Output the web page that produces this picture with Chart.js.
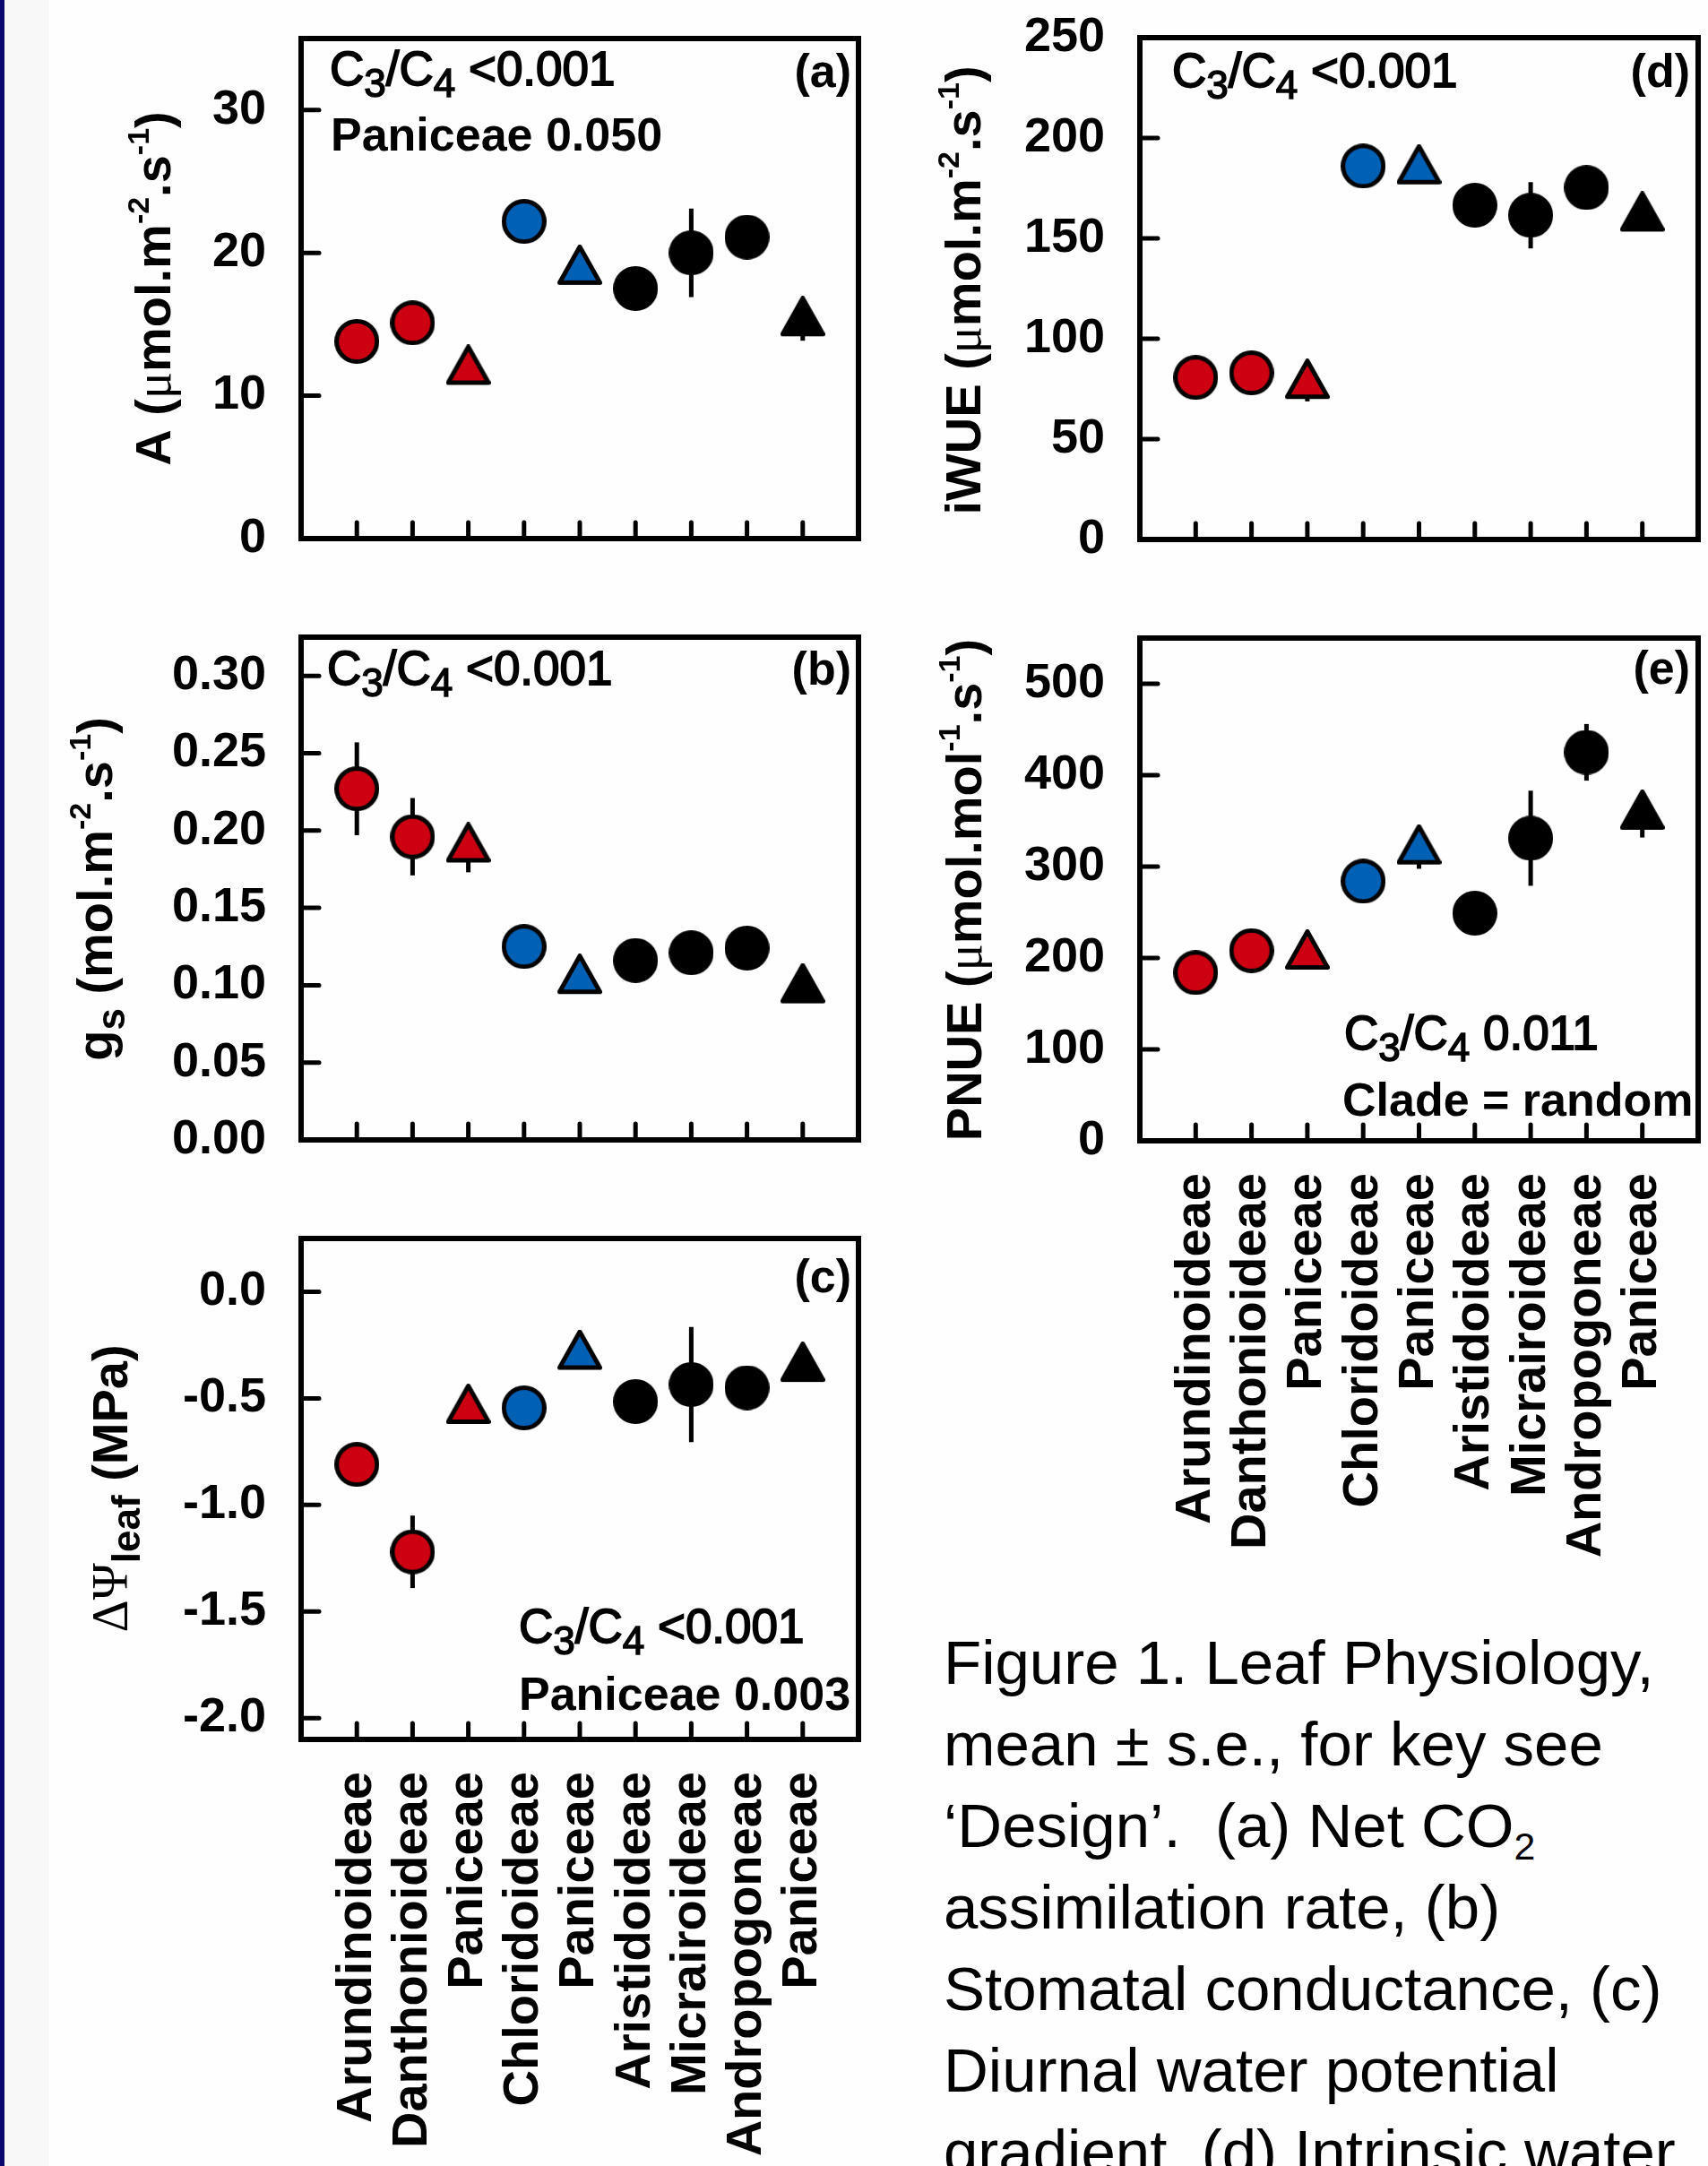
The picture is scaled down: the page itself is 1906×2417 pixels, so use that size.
<!DOCTYPE html>
<html>
<head>
<meta charset="utf-8">
<title>Figure 1. Leaf Physiology</title>
<script src="https://cdn.jsdelivr.net/npm/chart.js"></script>
<style>
  html, body { margin: 0; padding: 0; }
  body {
    width: 1906px; height: 2417px; overflow: hidden; position: relative;
    background: #fefefe; font-family: "Liberation Sans", Arial, sans-serif;
  }
  #edge { position: absolute; left: 0; top: 0; width: 5px; height: 2417px; background: #0a0a6e; }
  #strip { position: absolute; left: 5px; top: 0; width: 50px; height: 2417px; background: #f8f8f8; }
  .panel { position: absolute; }
  #caption {
    position: absolute; left: 1053px; top: 1810px;
    font-size: 69px; line-height: 91px; color: #000; white-space: pre;
  }
  #caption .sub { font-size: 0.62em; line-height: 0; position: relative; top: 0.32em; }
</style>
</head>
<body>
<div id="edge"></div>
<div id="strip"></div>
<canvas id="panel-a" class="panel" width="980" height="640" style="left:0px;top:0px"></canvas>
<canvas id="panel-b" class="panel" width="980" height="660" style="left:0px;top:650px"></canvas>
<canvas id="panel-c" class="panel" width="980" height="1097" style="left:0px;top:1320px"></canvas>
<canvas id="panel-d" class="panel" width="926" height="640" style="left:980px;top:0px"></canvas>
<canvas id="panel-e" class="panel" width="926" height="1100" style="left:980px;top:650px"></canvas>
<div id="caption">Figure 1. Leaf Physiology,
mean ± s.e., for key see
‘Design’.  (a) Net CO<span class="sub">2</span>
assimilation rate, (b)
Stomatal conductance, (c)
Diurnal water potential
gradient, (d) Intrinsic water</div>

<script>
// Leaf physiology panels, mean ± s.e. per clade

const categories = ['Arundinoideae', 'Danthonioideae', 'Paniceae', 'Chloridoideae', 'Paniceae',
    'Aristidoideae', 'Micrairoideae', 'Andropogoneae', 'Paniceae'];
const pathway = ['C3', 'C3', 'C3', 'NAD-ME', 'NAD-ME', 'NADP-ME', 'NADP-ME', 'NADP-ME', 'NADP-ME'];

// (a) net CO2 assimilation, umol m-2 s-1
const assimilation = [13.8, 15.1, 11.7, 22.2, 18.7, 17.5, 20.0, 21.1, 15.1];
const assimilationErr = [0.6, 0.6, 0.5, 0.6, 0.5, 0.6, 3.1, 0.6, 1.25];
// (b) stomatal conductance, mol m-2 s-1
const conductance = [0.227, 0.196, 0.188, 0.125, 0.103, 0.116, 0.121, 0.124, 0.097];
const conductanceErr = [0.030, 0.025, 0.015, 0.008, 0.006, 0.008, 0.008, 0.008, 0.006];
// (c) diurnal leaf water potential gradient, MPa
const waterPotential = [-0.81, -1.22, -0.557, -0.545, -0.303, -0.515, -0.435, -0.45, -0.36];
const waterPotentialErr = [0.05, 0.17, 0.04, 0.05, 0.04, 0.05, 0.27, 0.05, 0.04];
// (d) intrinsic water use efficiency, umol mol-1
const iwue = [80.7, 83.0, 76.7, 186, 183.6, 166.5, 161.5, 175.3, 160.1];
const iwueErr = [4, 4, 7.9, 4, 3, 4, 16.5, 4, 3];
// (e) photosynthetic nitrogen use efficiency
const pnue = [184, 208, 202, 284, 317, 249, 331, 425, 355];
const pnueErr = [8, 8, 6, 8, 19.4, 8, 52, 31, 23.2];

const yTicksA = { min: 0, max: 35, step: 10, decimals: 0 };
const yTicksB = { min: 0, max: 0.325, step: 0.05, decimals: 2 };
const yTicksC = { min: -2.1, max: 0.25, step: 0.5, decimals: 1 };
const yTicksD = { min: 0, max: 250, step: 50, decimals: 0 };
const yTicksE = { min: 0, max: 550, step: 100, decimals: 0 };

const SANS = '"Liberation Sans", Arial, sans-serif';
const SERIF = '"Liberation Serif", "DejaVu Serif", serif';
const FONTS = {
    tb: 'bold 56px ' + SANS,
    tsup: 'bold 34px ' + SANS,
    tsub: 'bold 44px ' + SANS,
    tsym: '56px ' + SERIF,
    nr: '53px ' + SANS,
    nsub: '44px ' + SANS,
    nb: 'bold 52px ' + SANS
};
// regular-weight annotation text is a little heavier in the original
const STROKE = { nr: 1.8, nsub: 1.5 };
const COLORS = { 'C3': '#cc0011', 'NAD-ME': '#0060b4', 'NADP-ME': '#000000' };

function makeMarker(shape, fill) {
    const c = document.createElement('canvas');
    const g = c.getContext('2d');
    if (shape === 'circle') {
        c.width = 50;
        c.height = 50;
    } else {
        // canvas centre sits on the triangle centroid (2/3 down from the apex)
        c.width = 50;
        c.height = 60;
    }
    g.fillStyle = fill;
    g.strokeStyle = '#000';
    g.lineWidth = 5;
    g.lineJoin = 'round';
    g.beginPath();
    if (shape === 'circle') {
        g.arc(25, 25, 22.5, 0, Math.PI * 2);
    } else {
        g.moveTo(25, 2.5);
        g.lineTo(47.5, 42.5);
        g.lineTo(2.5, 42.5);
        g.closePath();
    }
    g.fill();
    g.stroke();
    return c;
}

const markerCache = {};
function markerFor(i) {
    const shape = categories[i] === 'Paniceae' ? 'triangle' : 'circle';
    const key = shape + pathway[i];
    if (!markerCache[key]) markerCache[key] = makeMarker(shape, COLORS[pathway[i]]);
    return markerCache[key];
}

function drawRich(ctx, parts, x, y, align, rotate) {
    ctx.save();
    ctx.translate(x, y);
    if (rotate) ctx.rotate(-Math.PI / 2);
    ctx.textBaseline = 'alphabetic';
    ctx.textAlign = 'left';
    ctx.fillStyle = '#000';
    ctx.strokeStyle = '#000';
    let total = 0;
    parts.forEach(p => { ctx.font = FONTS[p[1]]; total += ctx.measureText(p[0]).width; });
    let cx = align === 'center' ? -total / 2 : (align === 'right' ? -total : 0);
    parts.forEach(p => {
        ctx.font = FONTS[p[1]];
        ctx.fillText(p[0], cx, p[2] || 0);
        if (STROKE[p[1]]) {
            ctx.lineWidth = STROKE[p[1]];
            ctx.strokeText(p[0], cx, p[2] || 0);
        }
        cx += ctx.measureText(p[0]).width;
    });
    ctx.restore();
}

const c3c4 = p => [['C', 'nr'], ['3', 'nsub', 13], ['/C', 'nr'], ['4', 'nsub', 13], [' ' + p, 'nr']];
const muTitle = (pre, mid, sup) => [[pre, 'tb'], ['\u03bc', 'tsym'], [mid, 'tb'], [sup, 'tsup', -24],
    ['.s', 'tb'], ['-1', 'tsup', -24], [')', 'tb']];

// inward ticks and the closed frame
const frame = {
    id: 'frame',
    afterDraw(chart) {
        const { ctx, chartArea: a, scales: { x, y } } = chart;
        ctx.save();
        ctx.strokeStyle = '#000';
        ctx.lineWidth = 5;
        ctx.lineCap = 'round';
        y.ticks.forEach(t => {
            if (t.value <= y.min + 1e-9 || t.value >= y.max - 1e-9) return;
            const py = y.getPixelForValue(t.value);
            ctx.beginPath();
            ctx.moveTo(a.left, py);
            ctx.lineTo(a.left + 20, py);
            ctx.stroke();
        });
        x.ticks.forEach(t => {
            const px = x.getPixelForValue(t.value);
            ctx.beginPath();
            ctx.moveTo(px, a.bottom);
            ctx.lineTo(px, a.bottom - 18);
            ctx.stroke();
        });
        ctx.lineCap = 'butt';
        ctx.lineWidth = 6;
        ctx.strokeRect(a.left, a.top, a.right - a.left, a.bottom - a.top);
        ctx.restore();
    }
};

const errorBars = {
    id: 'errorBars',
    beforeDatasetsDraw(chart) {
        const { ctx, scales: { x, y } } = chart;
        const ds = chart.data.datasets[0];
        ctx.save();
        ctx.strokeStyle = '#000';
        ctx.lineWidth = 5;
        ds.data.forEach((pt, i) => {
            const e = ds.errors[i];
            const px = x.getPixelForValue(pt.x);
            ctx.beginPath();
            ctx.moveTo(px, y.getPixelForValue(pt.y - e));
            ctx.lineTo(px, y.getPixelForValue(pt.y + e));
            ctx.stroke();
        });
        ctx.restore();
    }
};

function makePanel(id, cfg) {
    const canvas = document.getElementById(id);
    const left = parseFloat(canvas.style.left), top = parseFloat(canvas.style.top);
    const area = cfg.area;
    const texts = {
        id: 'panelText',
        afterDraw(chart) {
            const ctx = chart.ctx;
            drawRich(ctx, cfg.title.parts, cfg.title.x - left, cfg.title.y - top, 'center', true);
            cfg.notes.forEach(n => drawRich(ctx, n.parts, n.x - left, n.y - top, n.align || 'left', false));
        }
    };
    return new Chart(canvas, {
        type: 'scatter',
        data: {
            datasets: [{
                data: cfg.values.map((v, i) => ({ x: i, y: v })),
                errors: cfg.errors,
                pointStyle: ctx => markerFor(ctx.dataIndex),
                pointRadius: 25,
                showLine: false,
                clip: false
            }]
        },
        options: {
            responsive: false,
            animation: false,
            events: [],
            layout: {
                autoPadding: false,
                padding: { left: 0, top: area.top - top, right: left + canvas.width - area.right, bottom: 0 }
            },
            plugins: { legend: { display: false }, tooltip: { enabled: false } },
            scales: {
                x: {
                    type: 'linear', min: -1, max: 9,
                    afterBuildTicks: s => { s.ticks = categories.map((c, i) => ({ value: i })); },
                    afterFit: s => { s.height = top + canvas.height - area.bottom; s.paddingLeft = 0; s.paddingRight = 0; },
                    grid: { display: false },
                    border: { display: false },
                    ticks: {
                        display: !!cfg.showCategories,
                        autoSkip: false, minRotation: 90, maxRotation: 90, padding: 28,
                        color: '#000',
                        font: { family: SANS, size: 56, weight: 'bold' },
                        callback: v => categories[v]
                    }
                },
                y: {
                    min: cfg.y.min, max: cfg.y.max,
                    afterFit: s => { s.width = area.left - left; s.paddingTop = 0; s.paddingBottom = 0; },
                    grid: { display: false },
                    border: { display: false },
                    ticks: {
                        stepSize: cfg.y.step, includeBounds: false, padding: 31,
                        color: '#000',
                        font: { family: SANS, size: 54, weight: 'bold' },
                        callback: v => Number(v).toFixed(cfg.y.decimals)
                    }
                }
            }
        },
        plugins: [errorBars, frame, texts]
    });
}

makePanel('panel-a', {
    values: assimilation, errors: assimilationErr, y: yTicksA,
    area: { left: 336, top: 43, right: 958, bottom: 601 },
    title: { parts: muTitle('A (', 'mol.m', '-2'), x: 190, y: 322 },
    notes: [
        { parts: c3c4('<0.001'), x: 368, y: 95 },
        { parts: [['Paniceae 0.050', 'nb']], x: 369, y: 168 },
        { parts: [['(a)', 'nb']], x: 950, y: 97, align: 'right' }
    ]
});

makePanel('panel-b', {
    values: conductance, errors: conductanceErr, y: yTicksB,
    area: { left: 336, top: 711, right: 958, bottom: 1272 },
    title: {
        parts: [['g', 'tb'], ['s', 'tsub', 14], [' (mol.m', 'tb'], ['-2', 'tsup', -24], ['.s', 'tb'],
            ['-1', 'tsup', -24], [')', 'tb']],
        x: 125, y: 992
    },
    notes: [
        { parts: c3c4('<0.001'), x: 365, y: 764 },
        { parts: [['(b)', 'nb']], x: 950, y: 764, align: 'right' }
    ]
});

makePanel('panel-c', {
    values: waterPotential, errors: waterPotentialErr, y: yTicksC, showCategories: true,
    area: { left: 336, top: 1382, right: 958, bottom: 1941 },
    title: { parts: [['\u0394\u03a8', 'tsym'], ['leaf', 'tsub', 14], [' (MPa)', 'tb']], x: 142, y: 1661 },
    notes: [
        { parts: [['(c)', 'nb']], x: 950, y: 1442, align: 'right' },
        { parts: c3c4('<0.001'), x: 579, y: 1833 },
        { parts: [['Paniceae 0.003', 'nb']], x: 579, y: 1908 }
    ]
});

makePanel('panel-d', {
    values: iwue, errors: iwueErr, y: yTicksD,
    area: { left: 1272, top: 42, right: 1895, bottom: 602 },
    title: { parts: muTitle('iWUE (', 'mol.m', '-2'), x: 1094, y: 324 },
    notes: [
        { parts: c3c4('<0.001'), x: 1308, y: 97 },
        { parts: [['(d)', 'nb']], x: 1886, y: 97, align: 'right' }
    ]
});

makePanel('panel-e', {
    values: pnue, errors: pnueErr, y: yTicksE, showCategories: true,
    area: { left: 1272, top: 712, right: 1895, bottom: 1273 },
    title: { parts: muTitle('PNUE (', 'mol.mol', '-1'), x: 1095, y: 993 },
    notes: [
        { parts: [['(e)', 'nb']], x: 1886, y: 763, align: 'right' },
        { parts: c3c4('0.011'), x: 1500, y: 1171 },
        { parts: [['Clade = random', 'nb']], x: 1498, y: 1245 }
    ]
});
</script>
</body>
</html>
